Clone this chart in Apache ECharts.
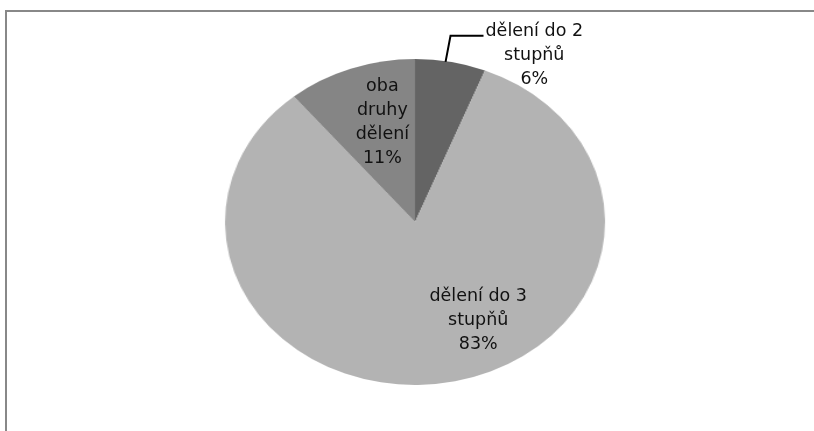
<!DOCTYPE html>
<html>
<head>
<meta charset="utf-8">
<script src="https://cdn.jsdelivr.net/npm/echarts@6/dist/echarts.min.js"></script>
<style>
  html, body { margin: 0; padding: 0; background: #ffffff; }
  #wrap { position: relative; width: 814px; height: 431px; overflow: hidden; background: #fff; }
  #pieLayer, #labelLayer { position: absolute; left: 0; top: 0; width: 814px; height: 431px; }
  #pieLayer { transform-origin: 415px 222px; transform: scaleX(1.1656); }
  #frame { position: absolute; left: 5px; top: 10px; width: 820px; height: 440px;
           border-left: 2px solid #888888; border-top: 2px solid #888888; }
</style>
</head>
<body>
<div id="wrap">
  <div id="frame"></div>
  <div id="pieLayer"></div>
  <div id="labelLayer"></div>
</div>
<script>
// ---- data ----
const categories = ['dělení do 2 stupňů', 'dělení do 3 stupňů', 'oba druhy dělení'];
const values = [6, 83, 11];
const labelTexts = ['dělení do 2\nstupňů', 'dělení do 3\nstupňů', 'oba\ndruhy\ndělení'];

// ---- styles ----
const colors = ['#646464', '#b3b3b3', '#858585'];
const labelShift = { 1: { dx: 50, dy: 15 }, 2: { dx: -4, dy: -20 } };
const FONT = 'DejaVu Sans';
const FSIZE = 17.5;

const pieData = categories.map((c, i) => ({ name: c, value: values[i], itemStyle: { color: colors[i] } }));

const pieChart = echarts.init(document.getElementById('pieLayer'), null, { renderer: 'canvas' });
pieChart.setOption({
  animation: false,
  backgroundColor: 'transparent',
  series: [{
    type: 'pie',
    center: [415, 222],
    radius: 163,
    startAngle: 90,
    clockwise: true,
    label: { show: false },
    labelLine: { show: false },
    itemStyle: { borderWidth: 0 },
    emphasis: { disabled: true },
    data: pieData
  }]
});

const labelData = categories.map((c, i) => {
  const isOutside = i === 0;
  return {
    name: c,
    value: values[i],
    itemStyle: { color: 'rgba(0,0,0,0)' },
    label: isOutside ? {
      position: 'outside',
      padding: [40, 0, 0, 0],
      distanceToLabelLine: 2
    } : { position: 'inside' },
    labelLine: { show: isOutside, length: 26.5, length2: 33, lineStyle: { color: '#000', width: 2 } }
  };
});

const labelChart = echarts.init(document.getElementById('labelLayer'), null, { renderer: 'canvas' });
labelChart.setOption({
  animation: false,
  backgroundColor: 'transparent',
  series: [{
    type: 'pie',
    center: [415, 222],
    radius: 163,
    startAngle: 90,
    clockwise: true,
    avoidLabelOverlap: false,
    emphasis: { disabled: true },
    label: {
      show: true,
      color: '#000',
      fontFamily: FONT,
      fontSize: FSIZE,
      lineHeight: 24,
      formatter: function (p) {
        const lines = (labelTexts[p.dataIndex] + '\n' + Math.round(p.percent) + '%').split('\n');
        return lines.map(l => '{a|' + l + '}').join('\n');
      },
      rich: { a: { align: 'center', fontFamily: FONT, fontSize: FSIZE, lineHeight: 24, color: '#111' } }
    },
    labelLayout: function (params) {
      const s = labelShift[params.dataIndex];
      return s ? { dx: s.dx, dy: s.dy } : {};
    },
    data: labelData
  }]
});
</script>
</body>
</html>
